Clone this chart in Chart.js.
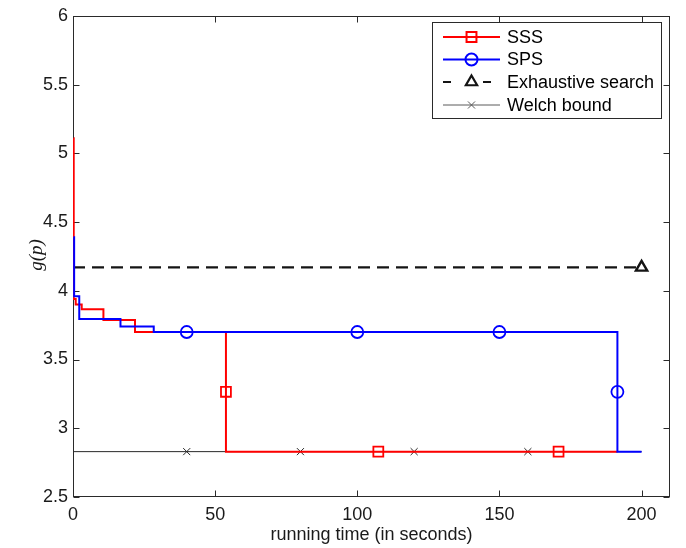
<!DOCTYPE html>
<html>
<head>
<meta charset="utf-8">
<script src="https://cdn.jsdelivr.net/npm/chart.js@4.4.1/dist/chart.umd.min.js"></script>
<style>
  html, body { margin: 0; padding: 0; background: #fff; }
  #wrap { width: 686px; height: 548px; position: relative; }
</style>
</head>
<body>
<div id="wrap"><canvas id="chart"></canvas></div>
<script>
// step curves: each value holds from its time until the next time
const sssTime = [0.2, 0.25, 0.95, 3.06, 10.7, 21.8, 53.8, 191.5];
const sssValue = [5.11, 3.94, 3.90, 3.865, 3.787, 3.70, 2.83, 2.83];
const spsTime = [0.15, 0.4, 2.2, 16.7, 28.4, 191.5, 200];
const spsValue = [4.39, 3.96, 3.795, 3.741, 3.70, 2.83, 2.83];

// markers sit on the curves only at these spots
const sssMarkTime = [53.8, 107.4, 170.8];
const sssMarkValue = [3.265, 2.83, 2.83];
const spsMarkTime = [40, 100, 150, 191.5];
const spsMarkValue = [3.70, 3.70, 3.70, 3.265];

const exhaustiveTime = [0, 200];
const exhaustiveValue = [4.17, 4.17];
const exhaustiveMarkTime = [200];
const exhaustiveMarkValue = [4.17];

const welchTime = [0, 200];
const welchValue = [2.83, 2.83];
const welchMarkTime = [40, 80, 120, 160];
const welchMarkValue = [2.83, 2.83, 2.83, 2.83];

const xTicks = [0, 50, 100, 150, 200];
const yTicks = [2.5, 3, 3.5, 4, 4.5, 5, 5.5, 6];
const legendLabels = ['SSS', 'SPS', 'Exhaustive search', 'Welch bound'];

const RED = 'rgb(255,0,0)';
const BLUE = 'rgb(0,0,255)';
const BLACK = 'rgb(20,20,20)';
const FONT = '"Liberation Sans", Arial, Helvetica, sans-serif';

const zip = (xs, ys) => xs.map((x, i) => ({ x: x, y: ys[i] }));

function lineSet(label, xs, ys, color, width, extra) {
    return Object.assign({
        label: label,
        data: zip(xs, ys),
        borderColor: color,
        borderWidth: width,
        pointRadius: 0,
        pointHoverRadius: 0,
        fill: false,
        tension: 0
    }, extra || {});
}

function markSet(label, xs, ys, color, style, radius, width) {
    return {
        label: label,
        data: zip(xs, ys),
        showLine: false,
        borderColor: color,
        backgroundColor: 'rgba(0,0,0,0)',
        pointStyle: style,
        pointRadius: radius,
        pointHoverRadius: radius,
        pointBorderColor: color,
        pointBackgroundColor: 'rgba(0,0,0,0)',
        pointBorderWidth: width
    };
}

// legend entries, drawn by hand to look like the MATLAB legend
const legendStyle = [
    { color: RED, width: 2, style: 'rect', radius: 7, mwidth: 1.8 },
    { color: BLUE, width: 2, style: 'circle', radius: 6, mwidth: 1.8 },
    { color: BLACK, width: 2.2, style: 'triangle', radius: 6.5, mwidth: 2.4, dashed: true },
    { color: 'rgb(90,90,90)', width: 1, style: 'crossRot', radius: 5, mwidth: 1 }
];

const framePlugin = {
    id: 'frame',
    beforeDatasetsDraw(chart) {
        const ctx = chart.ctx;
        const a = chart.chartArea;
        const xs = chart.scales.x, ys = chart.scales.y;
        const l = Math.round(a.left) + 0.5, r = Math.round(a.right) - 0.5;
        const t = Math.round(a.top) + 0.5, b = Math.round(a.bottom) - 0.5;
        ctx.save();
        ctx.strokeStyle = '#2a2a2a';
        ctx.lineWidth = 1;
        ctx.strokeRect(l, t, r - l, b - t);
        ctx.beginPath();
        xTicks.forEach(v => {
            const px = Math.round(xs.getPixelForValue(v)) + 0.5;
            ctx.moveTo(px, b); ctx.lineTo(px, b - 6);
            ctx.moveTo(px, t); ctx.lineTo(px, t + 6);
        });
        yTicks.forEach(v => {
            const py = Math.round(ys.getPixelForValue(v)) + 0.5;
            ctx.moveTo(l, py); ctx.lineTo(l + 6, py);
            ctx.moveTo(r, py); ctx.lineTo(r - 6, py);
        });
        ctx.stroke();
        ctx.restore();
    },
    afterDraw(chart) {
        const ctx = chart.ctx;
        const a = chart.chartArea;
        ctx.save();
        // axis titles
        ctx.fillStyle = '#1a1a1a';
        ctx.font = '18px ' + FONT;
        ctx.textAlign = 'center';
        ctx.textBaseline = 'middle';
        ctx.fillText('running time (in seconds)', (a.left + a.right) / 2, 535);
        ctx.translate(37, 255);
        ctx.rotate(-Math.PI / 2);
        ctx.font = 'italic 19px "Liberation Serif", "DejaVu Serif", serif';
        ctx.fillText('g(p)', 0, 0);
        ctx.restore();

        // legend box
        const bx = 432.5, by = 22.5, bw = 229, bh = 96;
        ctx.save();
        ctx.fillStyle = '#fff';
        ctx.fillRect(bx, by, bw, bh);
        ctx.strokeStyle = '#2a2a2a';
        ctx.lineWidth = 1;
        ctx.strokeRect(bx, by, bw, bh);
        const rows = [37, 59.5, 82, 105];
        legendLabels.forEach((text, i) => {
            const s = legendStyle[i];
            const y = rows[i];
            ctx.strokeStyle = s.color;
            ctx.lineWidth = s.width;
            ctx.beginPath();
            if (s.dashed) {
                ctx.moveTo(443, y); ctx.lineTo(451, y);
                ctx.moveTo(483, y); ctx.lineTo(491, y);
            } else {
                ctx.moveTo(443, y); ctx.lineTo(500, y);
            }
            ctx.stroke();
            ctx.fillStyle = 'rgba(0,0,0,0)';
            Chart.helpers.drawPoint(ctx, {
                pointStyle: s.style, radius: s.radius, rotation: 0, borderWidth: s.mwidth
            }, 471.5, y);
            ctx.fillStyle = '#000';
            ctx.font = '18px ' + FONT;
            ctx.textAlign = 'left';
            ctx.textBaseline = 'middle';
            ctx.fillText(text, 507, y + 1);
        });
        ctx.restore();
    }
};

new Chart(document.getElementById('chart'), {
    type: 'line',
    data: {
        datasets: [
            markSet('SPS markers', spsMarkTime, spsMarkValue, BLUE, 'circle', 6, 1.8),
            markSet('SSS markers', sssMarkTime, sssMarkValue, RED, 'rect', 7, 1.8),
            markSet('Exhaustive marker', exhaustiveMarkTime, exhaustiveMarkValue, BLACK, 'triangle', 6.5, 2.4),
            lineSet('SPS', spsTime, spsValue, BLUE, 2, { stepped: 'before' }),
            lineSet('SSS', sssTime, sssValue, RED, 2, { stepped: 'before' }),
            markSet('Welch markers', welchMarkTime, welchMarkValue, 'rgb(40,40,40)', 'crossRot', 5, 1),
            lineSet('Exhaustive search', exhaustiveTime, exhaustiveValue, BLACK, 2.2, { borderDash: [12, 7] }),
            lineSet('Welch bound', welchTime, welchValue, 'rgb(40,40,40)', 1)
        ]
    },
    options: {
        responsive: true,
        maintainAspectRatio: false,
        animation: false,
        events: [],
        layout: { padding: { top: 6, right: 16, left: 0, bottom: 0 } },
        plugins: {
            legend: { display: false },
            tooltip: { enabled: false }
        },
        scales: {
            x: {
                type: 'linear',
                min: 0,
                max: 210,
                afterFit: s => { s.height = 51; },
                afterBuildTicks: s => { s.ticks = xTicks.map(v => ({ value: v })); },
                grid: { display: false, drawTicks: false },
                border: { display: false },
                ticks: {
                    padding: 7,
                    color: '#1a1a1a',
                    font: { family: FONT, size: 18 },
                    maxRotation: 0,
                    callback: v => String(v)
                }
            },
            y: {
                type: 'linear',
                min: 2.5,
                max: 6,
                afterFit: s => { s.width = 73; },
                afterBuildTicks: s => { s.ticks = yTicks.map(v => ({ value: v })); },
                grid: { display: false, drawTicks: false },
                border: { display: false },
                ticks: {
                    padding: 5,
                    color: '#1a1a1a',
                    font: { family: FONT, size: 18 },
                    callback: v => String(v)
                }
            }
        }
    },
    plugins: [framePlugin]
});
</script>
</body>
</html>
